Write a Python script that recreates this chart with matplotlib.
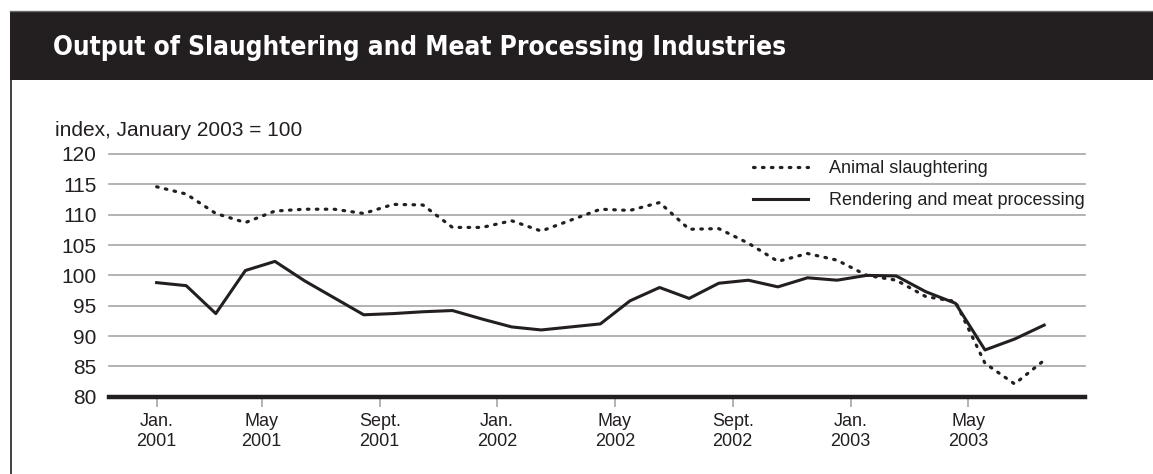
"""
Output of Slaughtering and Meat Processing Industries
"""
import numpy as np
import matplotlib
matplotlib.use('Agg')
import matplotlib.pyplot as plt
from matplotlib import font_manager as fm
from matplotlib.patches import Rectangle
from matplotlib.lines import Line2D

# monthly index, Jan. 2001 - July 2003 (January 2003 = 100)
slaughtering = [114.6, 113.4, 110.2, 108.7, 110.6, 110.9, 110.9, 110.2, 111.7, 111.6,
                107.9, 107.9, 109.0, 107.3, 109.1, 110.9, 110.7, 112.0, 107.6, 107.7,
                105.3, 102.3, 103.6, 102.5, 100.0, 99.2, 96.5, 95.7, 85.5, 82.1, 86.0]
rendering = [98.8, 98.3, 93.7, 100.8, 102.3, 99.1, 96.3, 93.5, 93.7, 94.0,
             94.2, 92.8, 91.5, 91.0, 91.5, 92.0, 95.8, 98.0, 96.2, 98.7,
             99.2, 98.1, 99.6, 99.2, 100.0, 99.9, 97.3, 95.4, 87.7, 89.5, 91.8]

tick_labels = ['Jan.\n2001', 'May\n2001', 'Sept.\n2001', 'Jan.\n2002',
               'May\n2002', 'Sept.\n2002', 'Jan.\n2003', 'May\n2003']
y_ticks = [80, 85, 90, 95, 100, 105, 110, 115, 120]

INK = '#231f20'
GRID = '#a6a6a6'
FONT = ['Liberation Sans', 'DejaVu Sans']

# the title is set in a condensed bold face; use one if it is installed
narrow = None
for f in fm.fontManager.ttflist:
    if f.weight in ('bold', 700) and (f.stretch not in ('normal', 500)
                                      or 'Narrow' in f.name or 'Condensed' in f.name):
        narrow = f
        break
if narrow is not None:
    title_kw = dict(fontproperties=fm.FontProperties(fname=narrow.fname, size=18.8))
else:
    title_kw = dict(family=FONT, fontsize=19.5, fontweight='bold')

x = np.arange(len(rendering))
# tick marks sit a bit off the month points in the original
tick_pos = [0, 3.55, 7.54, 11.51, 15.49, 19.47, 23.46, 27.44]

fig = plt.figure(figsize=(11.53, 4.74), dpi=100)
W, H = 1153, 474

# title bar
fig.patches.append(Rectangle((10 / W, 1 - 80 / H), 1 - 10 / W, 69 / H,
                             transform=fig.transFigure, facecolor=INK,
                             edgecolor='none', zorder=0))
fig.lines.append(Line2D([10 / W, 1], [1 - 11 / H, 1 - 11 / H],
                        transform=fig.transFigure, color='#6d6b6b', lw=1))
fig.lines.append(Line2D([11 / W, 11 / W], [0, 1 - 80 / H],
                        transform=fig.transFigure, color=INK, lw=1.2))
fig.text(53 / W, 1 - 55 / H, 'Output of Slaughtering and Meat Processing Industries',
         color='white', va='baseline', ha='left', **title_kw)

ax = fig.add_axes([109 / W, 1 - 396.7 / H, (1085 - 109) / W, (396.7 - 154) / H])
ax.set_xlim(-1.61, 31.38)
ax.set_ylim(80, 120)

for v in y_ticks[1:]:
    ax.axhline(v, color=GRID, lw=1.2, zorder=1, clip_on=False)
ax.axhline(80, color=INK, lw=3.2, zorder=4, clip_on=False)

ax.plot(x, slaughtering, color=INK, lw=2.3, linestyle=(0, (0.5, 2.3)),
        dash_capstyle='round', label='Animal slaughtering', zorder=3)
ax.plot(x, rendering, color=INK, lw=2.2, label='Rendering and meat processing',
        zorder=3)

for s in ax.spines.values():
    s.set_visible(False)

ax.set_yticks(y_ticks)
ax.set_yticklabels([str(v) for v in y_ticks], fontsize=15, color=INK, family=FONT)
ax.tick_params(axis='y', length=0, pad=9)

ax.set_xticks(tick_pos)
ax.set_xticklabels(tick_labels, fontsize=13, color=INK, family=FONT, linespacing=1.25)
ax.tick_params(axis='x', length=7.4, width=1.2, color=GRID, pad=4)

fig.text(55 / W, 1 - 136 / H, 'index, January 2003 = 100', fontsize=15,
         color=INK, family=FONT, va='baseline', ha='left')

leg = ax.legend(loc='upper right', bbox_to_anchor=(1.0, 0.974), frameon=False,
                prop={'family': FONT, 'size': 13}, handlelength=3.0,
                handletextpad=1.2, labelspacing=0.84, borderpad=0,
                borderaxespad=0)
for t in leg.get_texts():
    t.set_color(INK)

fig.savefig('out.png', dpi=100)
